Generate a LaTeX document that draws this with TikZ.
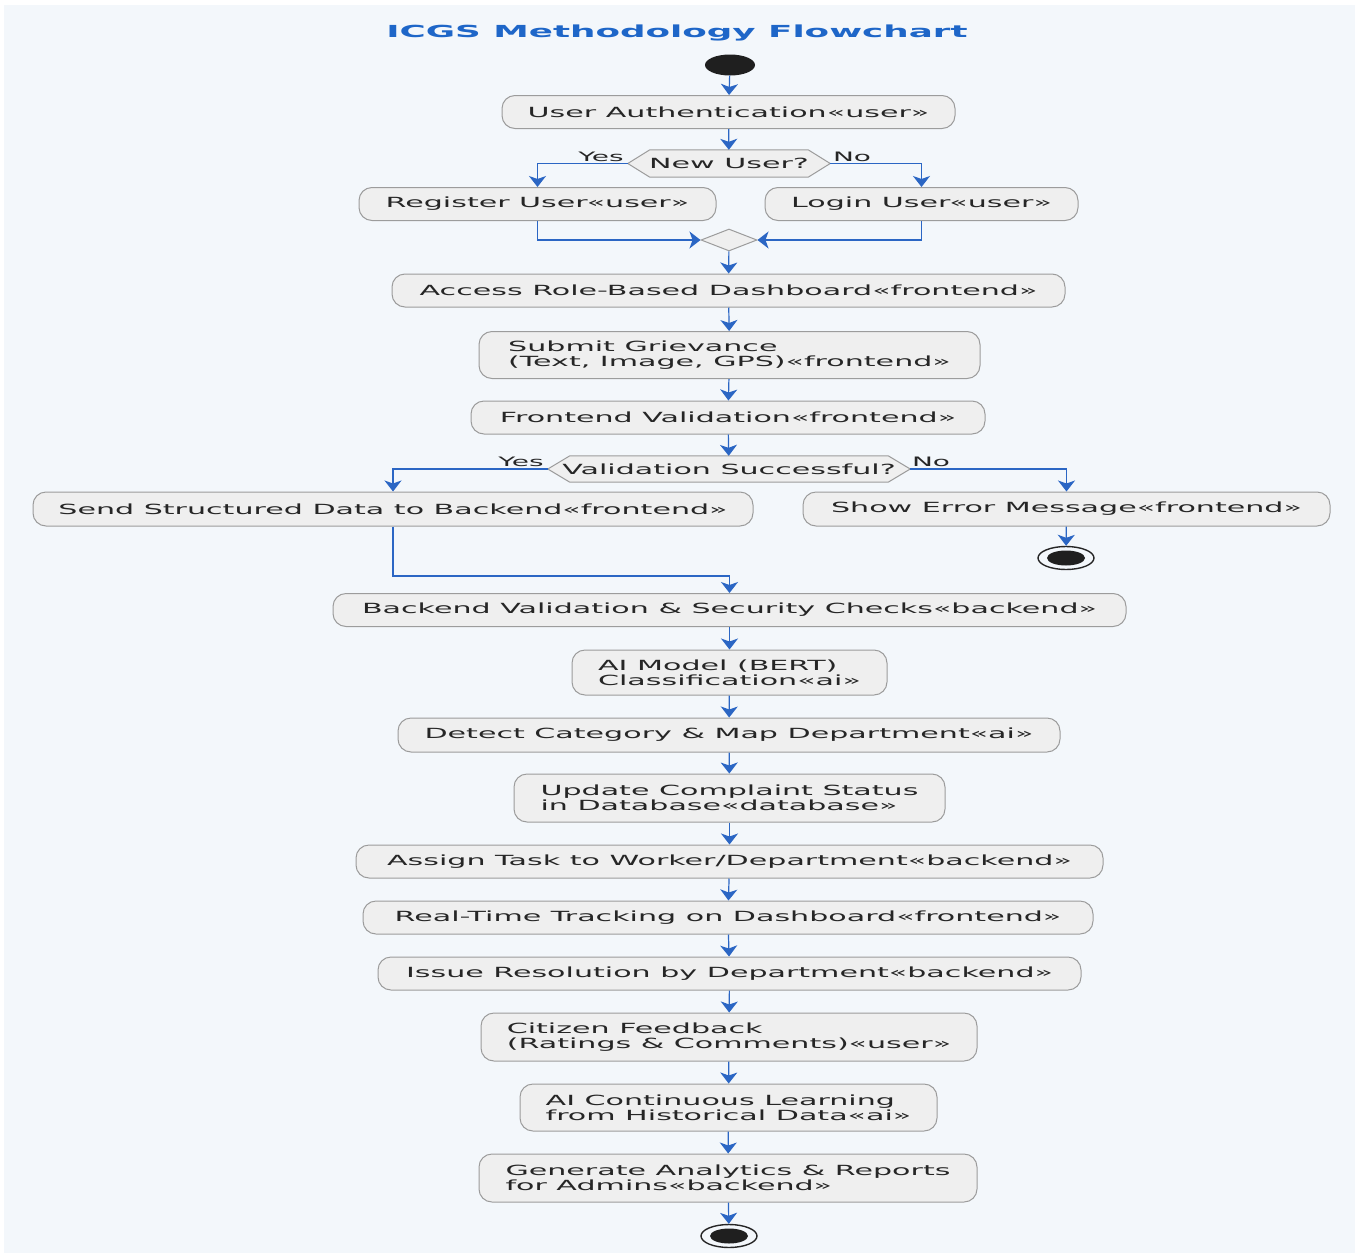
\documentclass[tikz,border=0pt]{standalone}
\usepackage{fontspec}
\usetikzlibrary{arrows.meta,shapes.geometric,backgrounds}
\newfontfamily\wf{DejaVu Sans}[FakeStretch=2.15]
\definecolor{pagebg}{HTML}{F3F7FB}
\definecolor{boxfill}{HTML}{EFEFEF}
\definecolor{boxline}{HTML}{9C9C9C}
\definecolor{arrc}{HTML}{2B66C4}
\definecolor{titlec}{HTML}{1E66C8}
\definecolor{txt}{HTML}{262626}
\tikzset{
  box/.style={draw=boxline, fill=boxfill, rounded corners=13pt, line width=1pt,
    minimum height=33pt, inner xsep=3pt, inner ysep=2pt, text=txt,
    font=\wf\fontsize{14}{15}\selectfont},
  twoline/.style={box, align=left, minimum height=47pt},
  dectext/.style={inner sep=0pt, text=txt, font=\wf\fontsize{14}{15}\selectfont},
  hexs/.style={draw=boxline, fill=boxfill, line width=1pt},
  lbl/.style={inner sep=0pt, text=txt, font=\wf\fontsize{13}{14}\selectfont},
  arr/.style={draw=arrc, line width=1.2pt, -{Stealth[length=11pt,width=17pt,inset=3pt]}},
  endo/.style={ellipse, draw=black!85, line width=1.4pt, fill=pagebg, minimum width=56pt, minimum height=23pt, inner sep=0pt},
}
\begin{document}
\begin{tikzpicture}[x=1pt,y=-1pt]
\useasboundingbox (0,0) rectangle (1355,1253);
\begin{scope}[on background layer]
\fill[white] (0,0) rectangle (1355,1253);
\fill[pagebg] (4,5) rectangle (1355,1253);
\end{scope}

\node[font=\wf\fontsize{16.6}{18}\selectfont\bfseries, text=titlec] (title) at (677,33) {ICGS Methodology Flowchart};

\node[ellipse, fill=black!88, minimum width=50pt, minimum height=21pt, inner sep=0pt] (start) at (730,65) {};
\node[box, minimum width=453pt] (ua) at (728.5,112) {User Authentication«user»};
\node[dectext, minimum width=202pt, minimum height=27pt] (d1) at (729,163.5) {New User?};
\node[box, minimum width=357pt] (reg) at (537.5,204) {Register User«user»};
\node[box, minimum width=313pt] (login) at (921.5,204) {Login User«user»};
\node[diamond, aspect=2.5, draw=boxline, fill=boxfill, line width=1pt, minimum width=56pt, minimum height=22pt, inner sep=0pt] (m) at (729,240) {};
\node[box, minimum width=673pt] (access) at (728.5,290.5) {Access Role-Based Dashboard«frontend»};
\node[twoline, minimum width=501pt] (submit) at (729.5,355) {Submit Grievance\\(Text, Image, GPS)«frontend»};
\node[box, minimum width=514pt] (fv) at (728,417.5) {Frontend Validation«frontend»};
\node[dectext, minimum width=362pt, minimum height=26pt] (d2) at (729,469) {Validation Successful?};
\node[box, minimum width=720pt, minimum height=34pt] (send) at (393,509) {Send Structured Data to Backend«frontend»};
\node[box, minimum width=527pt, minimum height=34pt] (err) at (1066.5,509) {Show Error Message«frontend»};
\node[endo] (end1) at (1066,558) {};
\fill[black!88] (end1.center) ellipse (19pt and 7.5pt);
\node[box, minimum width=793pt] (be) at (729.5,610) {Backend Validation \& Security Checks«backend»};
\node[twoline, minimum width=315pt, minimum height=45pt] (ai) at (729.5,672.5) {AI Model (BERT)\\Classification«ai»};
\node[box, minimum width=662pt, minimum height=34pt] (det) at (729,735) {Detect Category \& Map Department«ai»};
\node[twoline, minimum width=431pt, minimum height=48pt] (upd) at (729.5,798) {Update Complaint Status\\in Database«database»};
\node[box, minimum width=747pt] (asg) at (729.5,861.5) {Assign Task to Worker/Department«backend»};
\node[box, minimum width=730pt] (rt) at (728,917.5) {Real-Time Tracking on Dashboard«frontend»};
\node[box, minimum width=703pt] (iss) at (729.5,973.5) {Issue Resolution by Department«backend»};
\node[twoline, minimum width=496pt, minimum height=48pt] (cf) at (729,1037) {Citizen Feedback\\(Ratings \& Comments)«user»};
\node[twoline, minimum width=417pt, minimum height=47pt] (acl) at (728.5,1107.5) {AI Continuous Learning\\from Historical Data«ai»};
\node[twoline, minimum width=498pt, minimum height=48pt] (gen) at (728,1178) {Generate Analytics \& Reports\\for Admins«backend»};
\node[endo] (end2) at (729,1236) {};
\fill[black!88] (end2.center) ellipse (19pt and 7.5pt);

\begin{scope}[on background layer]
\draw[hexs] (d1.west) -- ([xshift=22pt]d1.north west) -- ([xshift=-22pt]d1.north east) -- (d1.east) -- ([xshift=-22pt]d1.south east) -- ([xshift=22pt]d1.south west) -- cycle;
\draw[hexs] (d2.west) -- ([xshift=22pt]d2.north west) -- ([xshift=-22pt]d2.north east) -- (d2.east) -- ([xshift=-22pt]d2.south east) -- ([xshift=22pt]d2.south west) -- cycle;
\end{scope}

\node[lbl] (y1) at (601,157) {Yes};
\node[lbl] (n1) at (852,157) {No};
\node[lbl] (y2) at (521,462) {Yes};
\node[lbl] (n2) at (931,462) {No};

\draw[arr] (start) -- (ua);
\draw[arr] (ua) -- (d1);
\draw[arr] (d1.west) -| (reg.north);
\draw[arr] (d1.east) -| (login.north);
\draw[arr] (reg.south) |- (m.west);
\draw[arr] (login.south) |- (m.east);
\draw[arr] (m) -- (access);
\draw[arr] (access) -- (submit);
\draw[arr] (submit) -- (fv);
\draw[arr] (fv) -- (d2);
\draw[arr] (d2.west) -| (send.north);
\draw[arr] (d2.east) -| (err.north);
\draw[arr] (err) -- (end1);
\draw[arr] (send.south) |- ([yshift=17pt]be.north) -- (be.north);
\draw[arr] (be) -- (ai);
\draw[arr] (ai) -- (det);
\draw[arr] (det) -- (upd);
\draw[arr] (upd) -- (asg);
\draw[arr] (asg) -- (rt);
\draw[arr] (rt) -- (iss);
\draw[arr] (iss) -- (cf);
\draw[arr] (cf) -- (acl);
\draw[arr] (acl) -- (gen);
\draw[arr] (gen) -- (end2);
\end{tikzpicture}
\end{document}
